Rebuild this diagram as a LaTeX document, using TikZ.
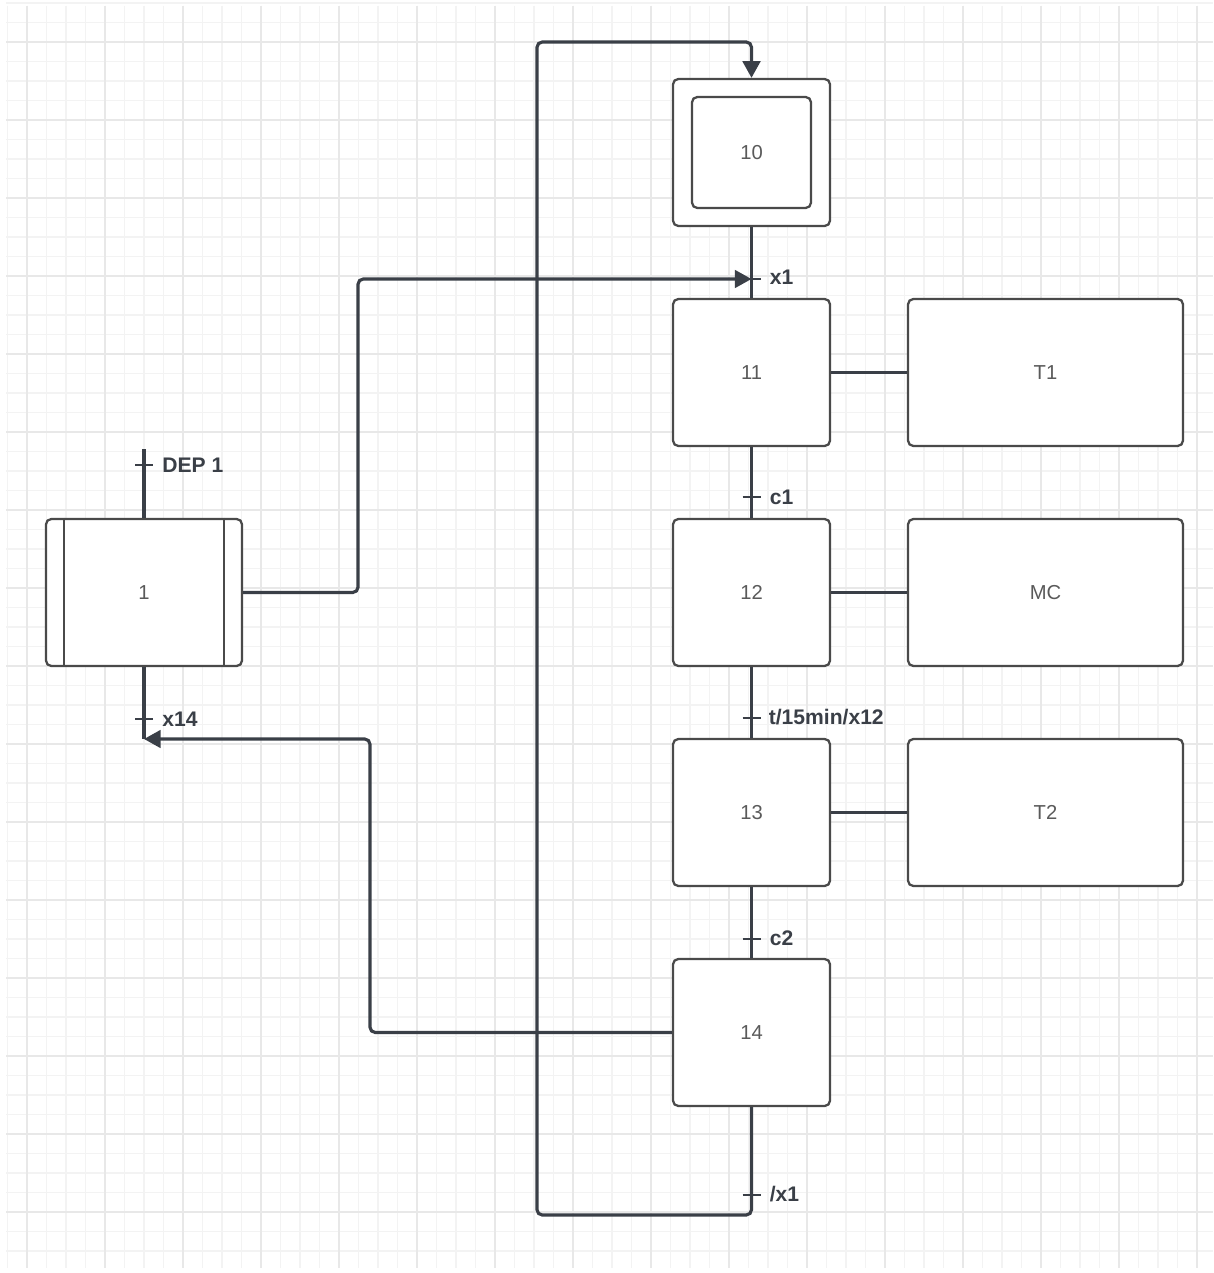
\documentclass[tikz,border=0pt]{standalone}
\usepackage{fontspec}
\setmainfont{Liberation Sans}
\usetikzlibrary{arrows.meta,calc}
\definecolor{linec}{HTML}{3A3F47}
\definecolor{boxc}{HTML}{4A4A4A}
\definecolor{numc}{HTML}{5A5A5A}
\definecolor{gridminor}{HTML}{F3F3F3}
\definecolor{gridmajor}{HTML}{E8E8E8}
\begin{document}
\begin{tikzpicture}[x=0.02cm,y=-0.02cm,
  stepbox/.style={draw=boxc, line width=1.3pt, rounded corners=3pt, fill=white,
    minimum width=3.14cm, minimum height=2.94cm, inner sep=0pt, text=numc,
    font=\fontsize{11.5}{13}\selectfont},
  actbox/.style={stepbox, minimum width=5.5cm},
  conn/.style={draw=linec, line width=1.8pt, rounded corners=3pt},
  trans/.style={draw=linec, line width=1.6pt},
  tlabel/.style={anchor=west, font=\bfseries\fontsize{12}{14}\selectfont, text=linec, inner sep=0pt},
  arr/.style={-{Triangle[length=9.5pt,width=10pt]}}
]
\useasboundingbox (0,0) rectangle (1213,1273);
\fill[white] (0,0) rectangle (1213,1273);
% grid
\foreach \k in {0,...,61} {
  \draw[gridminor, line width=0.6pt] ({7.5+19.5*\k},6) -- ({7.5+19.5*\k},1268);
}
\foreach \k in {0,...,64} {
  \draw[gridminor, line width=0.6pt] (6,{3+19.5*\k}) -- (1213,{3+19.5*\k});
}
\foreach \k in {0,...,15} {
  \draw[gridmajor, line width=0.8pt] ({27+78*\k},6) -- ({27+78*\k},1268);
  \draw[gridmajor, line width=0.8pt] (6,{42+78*\k}) -- (1213,{42+78*\k});
}

% steps
\node[stepbox] (s10) at (751.5,152.5) {};
\node[stepbox, minimum width=2.38cm, minimum height=2.22cm] (s10in) at (751.5,152.5) {10};
\node[stepbox] (s11) at (751.5,372.5) {11};
\node[stepbox] (s12) at (751.5,592.5) {12};
\node[stepbox] (s13) at (751.5,812.5) {13};
\node[stepbox] (s14) at (751.5,1032.5) {14};
\node[actbox] (a11) at (1045.5,372.5) {T1};
\node[actbox] (a12) at (1045.5,592.5) {MC};
\node[actbox] (a13) at (1045.5,812.5) {T2};
\node[stepbox, minimum width=3.92cm] (s1) at (144,592.5) {1};
\draw[draw=boxc, line width=1.3pt] ($(s1.north west)+(19,0)$) -- ($(s1.south west)+(19,0)$);
\draw[draw=boxc, line width=1.3pt] ($(s1.north east)+(-19,0)$) -- ($(s1.south east)+(-19,0)$);

% coordinates
\coordinate (tx1) at (751.5,279);
\coordinate (tc1) at (751.5,497);
\coordinate (tt15) at (751.5,718);
\coordinate (tc2) at (751.5,939);
\coordinate (tnx1) at (751.5,1195);
\coordinate (tdep) at (144,465);
\coordinate (tx14) at (144,719);
\coordinate (s1top) at (144,449);
\coordinate (x14end) at (144,739);
\coordinate (loopBL) at (537,1215);
\coordinate (loopTL) at (537,42);

% sequence connectors
\draw[conn] (s10.south) -- (s11.north);
\draw[conn] (s11.south) -- (s12.north);
\draw[conn] (s12.south) -- (s13.north);
\draw[conn] (s13.south) -- (s14.north);
\draw[conn] (s11.east) -- (a11.west);
\draw[conn] (s12.east) -- (a12.west);
\draw[conn] (s13.east) -- (a13.west);
\draw[conn] (s1top) -- (s1.north);
\draw[conn] (s1.south) -- (x14end);

% loop back
\draw[conn,arr] (s14.south) |- (loopBL) -- (loopTL) -| (s10.north);
% step 1 to x1
\draw[conn,arr] (s1.east) -| (358,279) -- (tx1);
% step 14 to step 1
\draw[conn,arr] (s14.west) -| (370,739) -- (x14end);

% transitions
\foreach \t in {tx1,tc1,tt15,tc2,tnx1,tdep,tx14} {
  \draw[trans] ($(\t)+(-9,0)$) -- ($(\t)+(9,0)$);
}
\node[tlabel] (lx1) at ($(tx1)+(18,-2)$) {x1};
\node[tlabel] (lc1) at ($(tc1)+(18,0)$) {c1};
\node[tlabel] (lt15) at ($(tt15)+(17,-1)$) {t/15min/x12};
\node[tlabel] (lc2) at ($(tc2)+(18,-1)$) {c2};
\node[tlabel] (lnx1) at ($(tnx1)+(18,-1)$) {/x1};
\node[tlabel] (ldep) at ($(tdep)+(18,0)$) {DEP 1};
\node[tlabel] (lx14) at ($(tx14)+(18,0)$) {x14};
\end{tikzpicture}
\end{document}
